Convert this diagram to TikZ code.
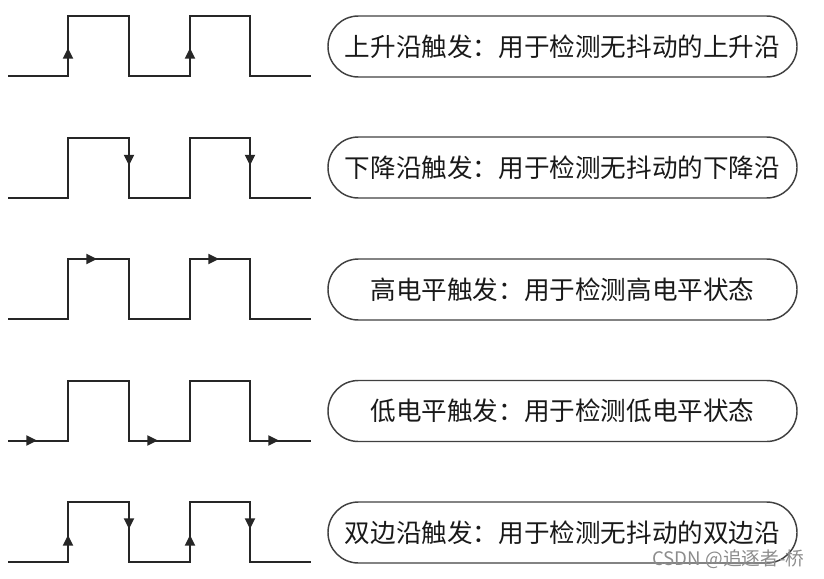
\documentclass[tikz,border=0pt]{standalone}
\usepackage{fontspec}
\newfontfamily\cjk{Noto Sans CJK SC}
\usetikzlibrary{arrows.meta}
\tikzset{
  wave/.style={line width=1.5pt, black!85, line join=miter},
  mk/.style={line width=1.5pt, black!85, -{Triangle[length=8pt,width=7.5pt]}},
  box/.style={draw=black!75, line width=1.1pt, rounded corners=22.8pt,
     minimum width=351.75pt, minimum height=45.75pt, inner sep=0pt,
     font=\cjk\fontsize{19.2}{23}\selectfont, text=black!90},
  wm/.style={font=\cjk\fontsize{14}{16}\selectfont, text=black!45, anchor=east}
}
\begin{document}
\begin{tikzpicture}[x=0.75pt,y=-0.75pt]
\useasboundingbox (0,0) rectangle (824,578);
% row tops
\foreach \T [count=\i] in {16,137.5,259,380.5,502}{
  \draw[wave] (8,\T+60) -- (68,\T+60) -- (68,\T) -- (129,\T) -- (129,\T+60)
     -- (190,\T+60) -- (190,\T) -- (250,\T) -- (250,\T+60) -- (311,\T+60);
}
% row 1: rising edge
\draw[mk] (68,60) -- (68,48);
\draw[mk] (190,60) -- (190,48);
% row 2: falling edge
\draw[mk] (129,153.5) -- (129,165.5);
\draw[mk] (250,153.5) -- (250,165.5);
% row 3: high level
\draw[mk] (84,259) -- (97,259);
\draw[mk] (206,259) -- (219,259);
% row 4: low level
\draw[mk] (24,440.5) -- (37,440.5);
\draw[mk] (145,440.5) -- (158,440.5);
\draw[mk] (266,440.5) -- (279,440.5);
% row 5: both edges
\draw[mk] (68,547) -- (68,535);
\draw[mk] (190,547) -- (190,535);
\draw[mk] (129,517) -- (129,529);
\draw[mk] (250,517) -- (250,529);
% boxes
\node[box] (b1) at (562.5,46.5) {上升沿触发：用于检测无抖动的上升沿};
\node[box] (b2) at (562.5,167.5) {下降沿触发：用于检测无抖动的下降沿};
\node[box] (b3) at (562.5,289.5) {高电平触发：用于检测高电平状态};
\node[box] (b4) at (562.5,411) {低电平触发：用于检测低电平状态};
\node[box] (b5) at (562.5,532.5) {双边沿触发：用于检测无抖动的双边沿};
\node[wm] (wmk) at (809,559) {CSDN @追逐者-桥};
\end{tikzpicture}
\end{document}
